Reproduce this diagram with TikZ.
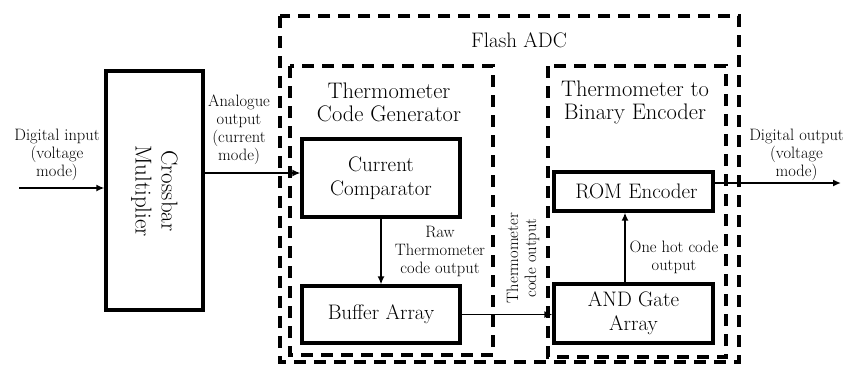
\documentclass[tikz,border=0pt]{standalone}
\usetikzlibrary{arrows.meta,calc}
\begin{document}
\begin{tikzpicture}[x=1pt,y=-1pt,
  blk/.style={draw,line width=3.2pt,inner sep=0pt,align=center,font=\fontsize{21}{24}\selectfont},
  grp/.style={draw,line width=3.4pt,dash pattern=on 12pt off 8pt},
  lbl/.style={align=center,inner sep=0pt,font=\fontsize{16.5}{18}\selectfont},
  head/.style={align=center,inner sep=0pt,font=\fontsize{22.5}{23}\selectfont},
  conn/.style={line width=1.8pt,-{Latex[length=8pt,width=7pt]}}]
\useasboundingbox (0,0) rectangle (845,365);
% group frames
\draw[grp] (280,16) rectangle (739,362);
\draw[grp] (290,66) rectangle (493,355);
\draw[grp] (548,66) rectangle (726,357);
% headings
\node[head,font=\fontsize{21}{23}\selectfont] (flash) at (519,40) {Flash ADC};
\node[head] (tcg) at (389,102) {Thermometer\\Code Generator};
\node[head] (tbe) at (635,102) {Thermometer to\\Binary Encoder};
% blocks
\node[blk,minimum width=97pt,minimum height=239pt] (cb) at (154.5,190.5) {};
\node[font=\fontsize{23}{26}\selectfont,align=center,rotate=-90] (cbt) at (154.5,191) {Crossbar\\Multiplier};
\node[blk,minimum width=158pt,minimum height=78pt] (cc) at (381,178) {Current\\Comparator};
\node[blk,minimum width=158pt,minimum height=57pt] (ba) at (381,314.5) {Buffer Array};
\node[blk,minimum width=159pt,minimum height=39pt] (rom) at (633.5,191.5) {\hspace*{6pt}ROM Encoder};
\node[blk,minimum width=159pt,minimum height=59pt] (and) at (633.5,313.5) {AND Gate\\Array};
% connector helpers
\coordinate (din) at (19,188);
\coordinate (ain) at (250,173);
\coordinate (oh) at (625,250);
\coordinate (dout) at (841,183);
% connectors
\draw[conn] (din) -- (cb.west |- din);
\draw[conn] (cb.east |- ain) -- (cc.west |- ain);
\draw[conn] (cc.south) -- (ba.north);
\draw[conn] (ba.east) -- (and.west |- ba.east);
\draw[conn] (and.north -| oh) -- (rom.south -| oh);
\draw[conn] (rom.east |- dout) -- (dout);
% labels
\node[lbl] (l1) at (57,155) {Digital input\\(voltage\\mode)};
\node[lbl] (l2) at (239,130) {Analogue\\output\\(current\\mode)};
\node[lbl] (l3) at (440,251) {Raw\\Thermometer\\code output};
\node[lbl,rotate=90] (l4) at (523,258) {Thermometer\\code output};
\node[lbl] (l5) at (674,257) {One hot code\\output};
\node[lbl,anchor=east] (l6) at (844,155) {Digital output\\(voltage\\mode)};
\end{tikzpicture}
\end{document}
